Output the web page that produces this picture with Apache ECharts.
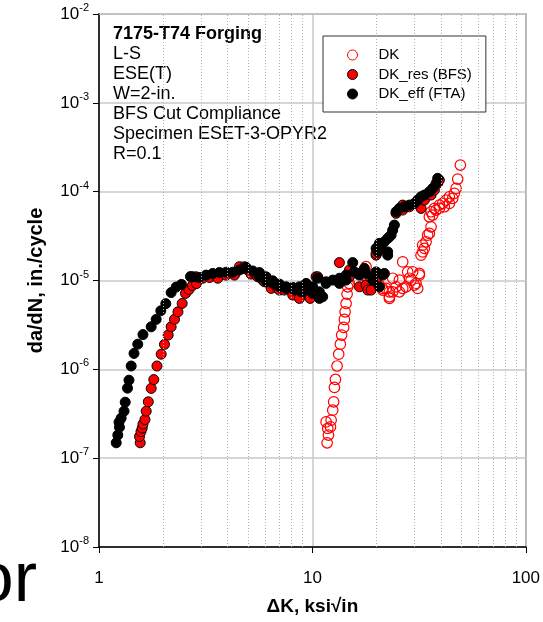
<!DOCTYPE html>
<html><head><meta charset="utf-8">
<script src="https://cdn.jsdelivr.net/npm/echarts@6/dist/echarts.min.js"></script>
<style>html,body{margin:0;padding:0;background:#fff}#c{width:543px;height:622px}</style>
</head><body><div id="c"></div>
<script>
// ---- Data: DK (open red circles)
const dkX = [11.72,11.89,11.80,12.15,11.59,12.24,12.45,12.58,12.68,12.82,13.05,13.28,13.52,13.71,14.01,14.12,14.23,14.38,14.54,14.63,
  14.90,16.30,17.20,17.84,18.83,19.88,20.60,21.35,21.35,22.14,22.95,22.95,22.95,23.78,23.78,24.66,25.56,25.56,26.49,26.49,27.48,27.96,28.47,29.00,29.50,30.05,30.60,31.14,31.71,31.71,
  32.29,32.86,33.47,32.86,34.08,34.67,35.32,35.97,35.32,36.60,35.97,37.28,37.97,39.34,39.34,41.52,40.77,42.29,43.83,43.83,45.41,46.26,47.12,47.94,49.35];
const dkY = [1.49e-7,1.82e-7,2.16e-7,2.25e-7,2.56e-7,2.68e-7,3.47e-7,4.31e-7,6.25e-7,7.70e-7,1.09e-6,1.48e-6,1.92e-6,2.43e-6,2.96e-6,3.65e-6,4.44e-6,5.52e-6,7.03e-6,8.49e-6,
  9.28e-6,1.01e-5,1.15e-5,1.43e-5,1.01e-5,1.10e-5,8.88e-6,8.15e-6,7.80e-6,8.15e-6,7.46e-6,6.55e-6,6.29e-6,7.46e-6,1.06e-5,8.49e-6,1.01e-5,7.46e-6,1.62e-5,8.15e-6,8.49e-6,1.25e-5,1.06e-5,1.01e-5,1.25e-5,8.88e-6,9.28e-6,8.15e-6,1.15e-5,1.20e-5,
  1.93e-5,2.10e-5,2.30e-5,2.50e-5,2.73e-5,3.24e-5,3.39e-5,4.02e-5,5.22e-5,5.45e-5,5.94e-5,6.48e-5,6.21e-5,6.48e-5,7.06e-5,6.76e-5,7.38e-5,8.04e-5,7.38e-5,8.76e-5,8.40e-5,9.57e-5,1.089e-4,1.387e-4,1.993e-4];

// ---- Data: DK_res (BFS) (filled red circles)
const resX = [1.560,1.548,1.573,1.594,1.607,1.642,1.664,1.702,1.756,1.806,1.869,1.956,2.027,2.109,2.178,2.258,2.344,2.453,2.543,2.640,2.740,2.862,
  2.853,3.064,3.293,3.601,3.943,4.312,4.551,4.802,4.977,5.164,5.449,5.544,5.851,5.960,6.408,6.408,6.879,7.005,7.392,8.087,8.694,9.007,9.681,9.755,10.40,10.59,13.38,14.90,14.90,16.60,17.84,18.16,18.83,19.88,
  19.88,19.88,20.98,20.98,22.95,24.66,26.49,26.49,28.47,31.14,32.29,33.47,35.97,37.28,38.63,39.34];
const resY = [1.49e-7,1.75e-7,1.99e-7,2.18e-7,2.42e-7,2.72e-7,3.38e-7,4.31e-7,6.10e-7,7.66e-7,1.09e-6,1.48e-6,1.91e-6,2.43e-6,3.01e-6,3.66e-6,4.44e-6,5.52e-6,7.16e-6,7.90e-6,8.77e-6,9.23e-6,
  1.10e-5,1.06e-5,1.08e-5,1.06e-5,1.15e-5,1.15e-5,1.43e-5,1.43e-5,1.31e-5,1.18e-5,1.15e-5,1.10e-5,1.01e-5,9.67e-6,8.49e-6,8.15e-6,8.15e-6,7.80e-6,7.80e-6,6.85e-6,6.29e-6,7.46e-6,6.55e-6,6.29e-6,1.10e-5,1.10e-5,1.59e-5,1.31e-5,1.10e-5,8.49e-6,8.88e-6,7.80e-6,7.80e-6,9.67e-6,
  1.93e-5,2.02e-5,2.50e-5,2.62e-5,3.10e-5,5.70e-5,6.21e-5,7.06e-5,6.76e-5,7.38e-5,6.48e-5,8.04e-5,9.16e-5,1.042e-4,1.240e-4,1.351e-4];

// ---- Data: DK_eff (FTA) (filled black circles)
const effX = [1.204,1.225,1.247,1.241,1.270,1.310,1.327,1.360,1.382,1.415,1.459,1.519,1.607,1.756,1.853,1.948,2.056,2.178,2.299,2.434,2.683,
  2.750,2.956,3.178,3.412,3.667,3.943,4.234,4.551,4.802,4.892,5.253,5.646,5.646,6.070,6.070,6.518,6.518,7.005,7.005,7.530,7.530,8.087,8.235,8.694,8.853,9.007,9.343,9.343,10.03,10.03,10.59,10.78,10.78,11.17,11.59,11.59,12.45,13.38,13.38,14.38,14.38,15.45,15.73,16.30,16.60,17.52,17.84,19.16,19.88,20.60,21.35,21.74,
  19.88,20.23,20.60,20.98,21.74,22.53,22.53,22.53,23.37,23.78,24.22,24.66,25.56,26.98,28.47,30.05,31.14,32.29,33.47,35.32,36.60,37.97,38.63];
const effY = [1.49e-7,1.82e-7,2.23e-7,2.54e-7,2.82e-7,3.38e-7,4.27e-7,6.14e-7,7.55e-7,1.09e-6,1.51e-6,1.92e-6,2.46e-6,3.01e-6,3.65e-6,4.56e-6,5.49e-6,7.31e-6,8.43e-6,9.04e-6,1.107e-5,
  1.10e-5,1.08e-5,1.15e-5,1.20e-5,1.23e-5,1.24e-5,1.24e-5,1.31e-5,1.37e-5,1.40e-5,1.28e-5,1.23e-5,1.10e-5,1.10e-5,9.67e-6,9.92e-6,9.28e-6,9.11e-6,8.49e-6,8.49e-6,8.15e-6,8.36e-6,7.80e-6,8.49e-6,7.46e-6,7.80e-6,9.28e-6,7.80e-6,8.49e-6,7.16e-6,1.06e-5,7.46e-6,6.29e-6,6.55e-6,9.67e-6,9.28e-6,1.01e-5,1.06e-5,9.28e-6,1.15e-5,1.01e-5,1.59e-5,1.25e-5,1.20e-5,1.15e-5,1.37e-5,1.20e-5,1.01e-5,1.25e-5,8.49e-6,1.15e-5,1.20e-5,
  2.30e-5,2.10e-5,2.62e-5,2.50e-5,2.73e-5,2.98e-5,2.10e-5,1.93e-5,3.24e-5,3.69e-5,4.21e-5,5.94e-5,6.48e-5,6.76e-5,7.06e-5,7.38e-5,8.04e-5,8.76e-5,9.16e-5,9.97e-5,1.089e-4,1.240e-4,1.412e-4];

// ---- Tick labels / text
const xTickLabels = ['1', '10', '100'];
const yTickExponents = ['-8', '-7', '-6', '-5', '-4', '-3', '-2'];
const seriesNames = ['DK', 'DK_res (BFS)', 'DK_eff (FTA)'];
const annotationTitle = '7175-T74 Forging';
const annotationLines = ['L-S', 'ESE(T)', 'W=2-in.', 'BFS Cut Compliance', 'Specimen ESET-3-OPYR2', 'R=0.1'];

const FONT = '"Liberation Sans", Arial, sans-serif';
const pairs = (xs, ys) => xs.map((x, i) => [x, ys[i]]);

// minor grid values (2..9 in each decade)
const minorX = [];
for (const d of [1, 10]) for (let m = 2; m <= 9; m++) minorX.push(m * d);
const minorY = [];
for (let e = -8; e <= -3; e++) for (let m = 2; m <= 9; m++) minorY.push(m * Math.pow(10, e));

const chart = echarts.init(document.getElementById('c'), null, { renderer: 'canvas' });
chart.setOption({
  animation: false,
  backgroundColor: '#fff',
  textStyle: { fontFamily: FONT },
  grid: { left: 99, right: 17, top: 14, bottom: 75, show: true, borderColor: '#707070', borderWidth: 1.5, backgroundColor: 'transparent' },
  legend: {
    orient: 'vertical', left: 323, top: 36,
    padding: [11, 14, 10, 24],
    itemWidth: 10, itemHeight: 10, itemGap: 3.5,
    borderColor: '#333', borderWidth: 1, backgroundColor: '#fff',
    selectedMode: false,
    textStyle: { fontSize: 15, color: '#000', fontFamily: FONT, lineHeight: 16, padding: [0, 0, 0, 16] },
    data: [
      { name: seriesNames[0], icon: 'circle', itemStyle: { color: '#fff', borderColor: '#ff0000', borderWidth: 1, opacity: 1 } },
      { name: seriesNames[1], icon: 'circle', itemStyle: { color: '#ff0000', borderColor: '#000', borderWidth: 1, opacity: 1 } },
      { name: seriesNames[2], icon: 'circle', itemStyle: { color: '#000', borderColor: '#000', borderWidth: 1, opacity: 1 } }
    ]
  },
  xAxis: {
    type: 'log', logBase: 10, min: 1, max: 100,
    axisLine: { show: true, onZero: false, lineStyle: { color: '#000', width: 1.5 } },
    axisTick: { show: true, length: 6, lineStyle: { color: '#000', width: 1 } },
    axisLabel: { margin: 23, fontSize: 17, color: '#000', fontFamily: FONT,
      formatter: v => xTickLabels[Math.round(Math.log10(v))] },
    splitLine: { show: true, lineStyle: { color: '#c8c8c8', width: 1.5 } },
    name: 'ΔK, ksi√in', nameLocation: 'middle', nameGap: 50,
    nameTextStyle: { fontSize: 19, fontWeight: 'bold', color: '#000', fontFamily: FONT }
  },
  yAxis: {
    type: 'log', logBase: 10, min: 1e-8, max: 1e-2,
    axisLine: { show: true, onZero: false, lineStyle: { color: '#000', width: 1.5 } },
    axisTick: { show: true, length: 6, lineStyle: { color: '#000', width: 1 } },
    axisLabel: { margin: 10, color: '#000',
      formatter: v => '{b|10}{s|' + yTickExponents[Math.round(Math.log10(v)) + 8] + '}',
      rich: {
        b: { fontSize: 17, color: '#000', fontFamily: FONT },
        s: { fontSize: 11, color: '#000', fontFamily: FONT, padding: [0, 0, 12, 0] }
      } },
    splitLine: { show: true, lineStyle: { color: '#c8c8c8', width: 1.5 } },
    name: 'da/dN, in./cycle', nameLocation: 'middle', nameGap: 53, nameRotate: 90,
    nameTextStyle: { fontSize: 20, fontWeight: 'bold', color: '#000', fontFamily: FONT }
  },
  graphic: [
    { type: 'text', left: 113, top: 25, silent: true,
      style: {
        text: '{t|' + annotationTitle + '}\n' + annotationLines.map(s => '{n|' + s + '}').join('\n'),
        rich: {
          t: { fontSize: 18, fontWeight: 'bold', fontFamily: FONT, lineHeight: 20, fill: '#000' },
          n: { fontSize: 18, fontFamily: FONT, lineHeight: 20, fill: '#000' }
        },
        fill: '#000'
      } },
    { type: 'text', silent: true, x: 37, y: 582,
      style: { text: 'or', fontSize: 70, fontFamily: FONT, fill: '#000', align: 'right', verticalAlign: 'middle' } }
  ],
  series: [
    { name: '_minorgrid', type: 'scatter', data: [], z: 1, silent: true,
      markLine: { silent: true, symbol: ['none', 'none'], label: { show: false }, animation: false,
        emphasis: { disabled: true },
        lineStyle: { color: '#b4b4b4', type: [1, 2], width: 1 },
        data: minorX.map(v => ({ xAxis: v })).concat(minorY.map(v => ({ yAxis: v }))) } },
    { name: seriesNames[0], type: 'scatter', data: pairs(dkX, dkY), symbol: 'circle', symbolSize: 10.5, z: 2,
      emphasis: { disabled: true },
      itemStyle: { color: 'rgba(255,255,255,0)', borderColor: '#ff0000', borderWidth: 1.2, opacity: 1 } },
    { name: seriesNames[1], type: 'scatter', data: pairs(resX, resY), symbol: 'circle', symbolSize: 10, z: 3,
      emphasis: { disabled: true },
      itemStyle: { color: '#ff0000', borderColor: '#000', borderWidth: 1, opacity: 1 } },
    { name: seriesNames[2], type: 'scatter', data: pairs(effX, effY), symbol: 'circle', symbolSize: 10, z: 4,
      emphasis: { disabled: true },
      itemStyle: { color: '#000', borderColor: '#000', borderWidth: 1, opacity: 1 } }
  ]
});
</script></body></html>
